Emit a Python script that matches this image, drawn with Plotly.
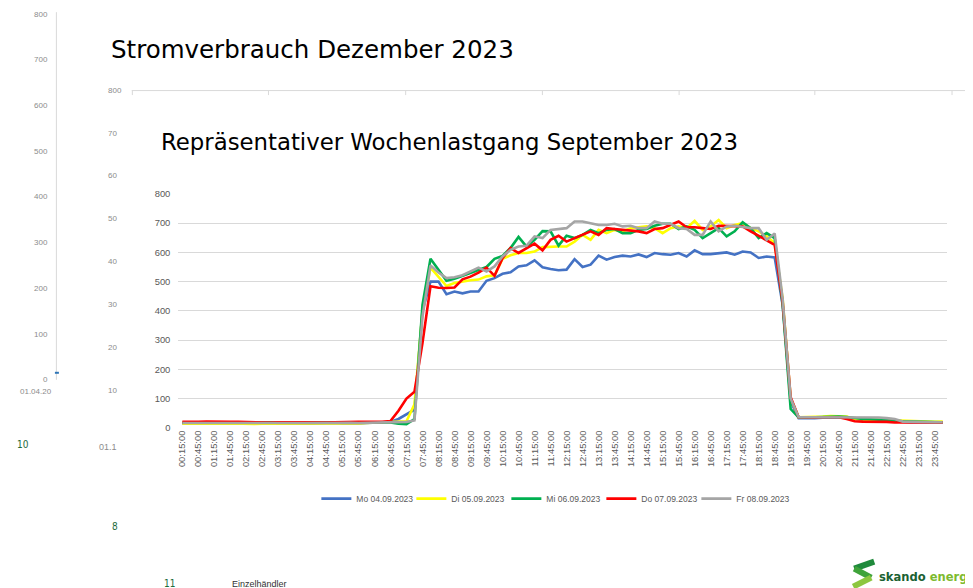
import plotly.graph_objects as go

# ---------------- data ----------------
times = []
for k in range(1, 97):
    m = (k * 15) % (24 * 60)
    times.append("%02d:%02d:00" % (m // 60, m % 60))
tick_labels = times[::2]

series_names = ["Mo 04.09.2023", "Di 05.09.2023", "Mi 06.09.2023", "Do 07.09.2023", "Fr 08.09.2023"]
series_colors = ["#4472C4", "#FFFF00", "#00B050", "#FF0000", "#A5A5A5"]

mo = [15, 14, 16, 15, 15, 14, 15, 16, 15, 14, 15, 16, 15, 14, 15, 15, 14, 15, 15, 16, 15, 14, 15, 16, 17, 18,
      20, 30, 45, 62, 400, 500, 500, 457, 466, 460, 466, 466, 503, 512, 527, 532, 552, 556, 573, 549, 543, 539,
      541, 577, 550, 558, 589, 575, 584, 589, 586, 593, 584, 598, 594, 592, 598, 586, 607, 594, 594, 598, 600, 592,
      603, 600, 581, 586, 583, 420, 90, 33, 32, 33, 34, 35, 35, 35, 30, 26, 25, 25, 24, 22, 20, 19, 19, 18, 18, 18]

di = [14, 15, 14, 14, 13, 14, 15, 14, 14, 13, 14, 14, 15, 14, 13, 14, 14, 15, 14, 14, 15, 14, 15, 16, 17, 18,
      19, 20, 22, 80, 400, 548, 515, 485, 495, 500, 505, 507, 518, 522, 578, 590, 598, 598, 603, 618, 620, 620,
      620, 637, 660, 643, 677, 666, 677, 672, 683, 686, 689, 683, 666, 683, 689, 683, 708, 677, 689, 711, 683, 694,
      700, 683, 672, 655, 632, 440, 100, 36, 36, 37, 38, 40, 40, 38, 30, 28, 27, 27, 26, 24, 22, 21, 20, 20, 20, 21]

mi = [18, 19, 18, 18, 19, 18, 18, 19, 18, 18, 19, 19, 18, 18, 19, 18, 19, 19, 18, 18, 19, 19, 18, 18, 17, 18,
      18, 14, 12, 30, 420, 578, 540, 503, 510, 520, 530, 538, 550, 578, 588, 615, 653, 620, 643, 673, 672, 623,
      657, 649, 660, 677, 666, 677, 680, 666, 666, 677, 680, 691, 698, 698, 680, 689, 677, 649, 666, 683, 655, 672,
      703, 683, 649, 666, 649, 420, 64, 35, 35, 36, 37, 37, 38, 37, 33, 30, 29, 28, 26, 24, 22, 21, 20, 20, 19, 19]

do = [20, 19, 20, 21, 20, 19, 20, 20, 19, 20, 19, 18, 19, 20, 19, 19, 18, 19, 18, 19, 20, 19, 20, 20, 19, 20,
      23, 58, 100, 123, 290, 484, 479, 478, 480, 508, 517, 531, 548, 520, 580, 615, 598, 615, 630, 607, 643, 657,
      637, 649, 660, 672, 660, 683, 680, 677, 674, 672, 666, 680, 683, 694, 706, 686, 686, 683, 680, 691, 691, 691,
      689, 672, 657, 643, 626, 430, 104, 36, 35, 35, 36, 36, 36, 30, 22, 21, 21, 21, 20, 18, 19, 18, 18, 18, 18, 18]

fr = [16, 17, 16, 16, 17, 16, 16, 17, 16, 16, 17, 16, 16, 17, 16, 16, 17, 16, 16, 17, 16, 17, 16, 17, 17, 18,
      18, 20, 20, 25, 380, 555, 531, 512, 515, 522, 535, 548, 535, 552, 586, 609, 620, 623, 655, 649, 677, 680,
      683, 706, 706, 700, 694, 694, 698, 689, 691, 683, 683, 706, 698, 698, 683, 680, 660, 660, 706, 672, 689, 691,
      686, 683, 683, 643, 665, 440, 100, 36, 36, 36, 37, 37, 37, 37, 36, 36, 36, 35, 33, 30, 21, 20, 20, 19, 19, 19]

series_values = [mo, di, mi, do, fr]

bg1_ticks = ["800", "700", "600", "500", "400", "300", "200", "100", "0"]
bg2_ticks = ["800", "70", "60", "50", "40", "30", "20", "10"]

# ---------------- figure ----------------
# the page body keeps the browser's default 8px margin, so the figure fills the rest of the window
OFF = 8
W, H = 973 - OFF, 588 - OFF
YS, YC = 0.982, 4.0   # vertical correction observed in the rendering


def px(x):
    return (x - OFF) / W


def py(y):
    yp = (y - YC) / YS
    return 1 - (yp - OFF) / H


fig = go.Figure()
for name, color, vals in zip(series_names, series_colors, series_values):
    fig.add_trace(go.Scatter(x=times, y=vals, mode="lines", name=name,
                             line=dict(color=color, width=2.6)))

fig.update_layout(
    width=W, height=H,
    margin=dict(l=0, r=0, t=0, b=0),
    paper_bgcolor="white", plot_bgcolor="white",
    font=dict(family="Liberation Sans", color="#595959"),
    xaxis=dict(type="category", domain=[px(176.7), px(946.7)], range=[-0.5, 95.5],
               tickmode="array", tickvals=tick_labels, ticktext=tick_labels,
               tickangle=-90, tickfont=dict(size=9.4, color="#595959"),
               showgrid=False, showline=False, zeroline=False, ticks=""),
    yaxis=dict(domain=[py(426), py(192)], range=[0, 800], dtick=100,
               gridcolor="#D9D9D9", gridwidth=1, zeroline=False, showline=False,
               tickfont=dict(size=9.4, color="#595959"), ticklabelstandoff=7),
    legend=dict(orientation="h", x=px(315), xanchor="left", y=py(497), yanchor="middle",
                font=dict(size=8.5, color="#595959"), itemwidth=30, entrywidth=50,
                entrywidthmode="pixels", bgcolor="rgba(0,0,0,0)"),
    showlegend=True,
)

shapes = []
ann = []

# background layer 1 (far left axis)
shapes.append(dict(type="line", xref="paper", yref="paper", x0=px(54.5), x1=px(54.5),
                   y0=py(10), y1=py(378), line=dict(color="#D9D9D9", width=1)))
shapes.append(dict(type="line", xref="paper", yref="paper", x0=px(53), x1=px(57),
                   y0=py(371), y1=py(371), line=dict(color="#2E75B6", width=2)))
for i, t in enumerate(bg1_ticks):
    ann.append(dict(text=t, x=px(48), y=py(12 + i * 45.75), xref="paper", yref="paper",
                    xanchor="right", yanchor="middle", showarrow=False,
                    font=dict(size=8, color="#8C8C8C")))
ann.append(dict(text="01.04.20", x=px(16), y=py(390), xref="paper", yref="paper",
                xanchor="left", yanchor="middle", showarrow=False, font=dict(size=8, color="#8C8C8C")))

# background layer 2
for i, t in enumerate(bg2_ticks):
    ann.append(dict(text=t, x=px(104), y=py(88 + i * 43), xref="paper", yref="paper",
                    xanchor="left", yanchor="middle", showarrow=False,
                    font=dict(size=8, color="#8C8C8C")))
ann.append(dict(text="01.1", x=px(95), y=py(445), xref="paper", yref="paper",
                xanchor="left", yanchor="middle", showarrow=False, font=dict(size=9, color="#8C8C8C")))
shapes.append(dict(type="line", xref="paper", yref="paper", x0=px(130), x1=px(973),
                   y0=py(88.5), y1=py(88.5), line=dict(color="#D9D9D9", width=1)))
for xt in [130.6, 267, 404.5, 541.5, 678.5, 814.5, 952]:
    shapes.append(dict(type="line", xref="paper", yref="paper", x0=px(xt), x1=px(xt),
                       y0=py(88.5), y1=py(93), line=dict(color="#D9D9D9", width=1)))

# green slide numbers etc.
for t, x, y in [("10", 13, 443), ("8", 108, 525), ("11", 160, 582)]:
    ann.append(dict(text=t, x=px(x), y=py(y), xref="paper", yref="paper", xanchor="left",
                    yanchor="middle", showarrow=False,
                    font=dict(size=10, color="#1E6B3A", family="DejaVu Sans Condensed")))
ann.append(dict(text="Einzelhändler", x=px(228), y=py(582), xref="paper", yref="paper",
                xanchor="left", yanchor="middle", showarrow=False,
                font=dict(size=9, color="#333333", family="Liberation Sans")))

# titles
ann.append(dict(text="Stromverbrauch Dezember 2023", x=px(107), y=py(47), xref="paper", yref="paper",
                xanchor="left", yanchor="middle", showarrow=False,
                font=dict(size=24.5, color="#000000", family="DejaVu Sans")))
ann.append(dict(text="Repräsentativer Wochenlastgang September 2023", x=px(157), y=py(140),
                xref="paper", yref="paper", xanchor="left", yanchor="middle", showarrow=False,
                font=dict(size=22.8, color="#000000", family="DejaVu Sans")))

# logo
def seg(x0, y0, x1, y1, color):
    return dict(type="line", xref="paper", yref="paper", layer="above",
                x0=px(x0), y0=py(y0), x1=px(x1), y1=py(y1), line=dict(color=color, width=6))


shapes.append(seg(874, 560, 854, 567, "#1F8A3C"))
shapes.append(seg(854, 567, 871, 576, "#3FA33A"))
shapes.append(seg(871, 576, 853, 585, "#8DC63F"))
ann.append(dict(text="<b><span style='color:#1B6132'>skando</span> <span style='color:#7DBA2F'>energi</span></b>",
                x=px(877), y=py(575), xref="paper", yref="paper", xanchor="left", yanchor="middle",
                showarrow=False, font=dict(size=12.8, family="DejaVu Sans Condensed")))

fig.update_layout(shapes=shapes, annotations=ann)
fig.write_html("out.html")
